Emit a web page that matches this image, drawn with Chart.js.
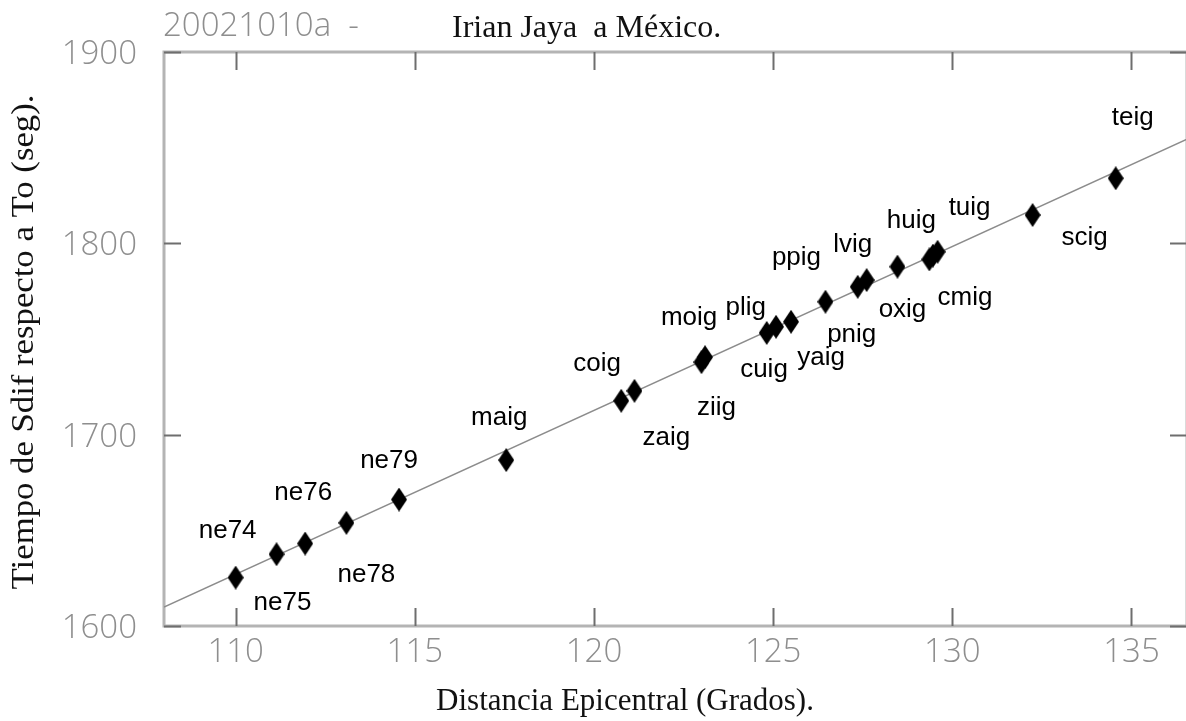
<!DOCTYPE html>
<html>
<head>
<meta charset="utf-8">
<script src="https://cdn.jsdelivr.net/npm/chart.js@4.4.1/dist/chart.umd.min.js"></script>
<style>
  html, body { margin: 0; padding: 0; background: #fff; overflow: hidden; }
  #wrap { width: 1200px; height: 721px; }
</style>
</head>
<body>
<div id="wrap"><canvas id="sdif" width="1200" height="721"></canvas></div>
<script>
// Sdif arrivals, event 20021010a (Irian Jaya) recorded in Mexico
const STATIONS = ['ne74','ne75','ne76','ne78','ne79','maig','coig','zaig','ziig','moig','plig',
                  'cuig','yaig','ppig','pnig','lvig','oxig','huig','cmig','tuig','scig','teig'];
const DIST = [110.00, 111.14, 111.94, 113.09, 114.56, 117.55, 120.76, 121.13, 123.00, 123.10, 124.82,
              125.08, 125.50, 126.46, 127.36, 127.61, 128.47, 129.36, 129.46, 129.59, 132.24, 134.56];
const SDIF = [1625.3, 1637.5, 1643.1, 1653.9, 1666.1, 1686.7, 1717.7, 1722.9, 1737.9, 1740.5, 1753.2,
              1756.4, 1759.0, 1769.5, 1777.3, 1780.8, 1787.8, 1791.6, 1793.6, 1795.6, 1814.8, 1834.0];

// least-squares line, end points
const FIT_X = [108, 136.55];
const FIT_Y = [1609.9, 1854.4];

const X_TICKS = [110, 115, 120, 125, 130, 135];
const Y_TICKS = [1600, 1700, 1800, 1900];

const EVENT_ID = '20021010a  -';
const TITLE = 'Irian Jaya  a México.';
const X_TITLE = 'Distancia Epicentral (Grados).';
const Y_TITLE = 'Tiempo de Sdif respecto a To (seg).';

// where each station name sits relative to its diamond (px)
const LABEL_OFFSET = {
  ne74: [-8, -47], ne75: [6, 49], ne76: [-2, -51], ne78: [20, 52], ne79: [-10, -39],
  maig: [-7, -42], coig: [-24, -37], zaig: [32, 47], ziig: [15, 46], moig: [-16, -39],
  plig: [-21, -25], cuig: [-12, 43], yaig: [30, 36], ppig: [-29, -44], pnig: [-6, 48],
  lvig: [-14, -35], oxig: [5, 43], huig: [-18, -39], cmig: [32, 42], tuig: [32, -44],
  scig: [52, 23], teig: [17, -60],
};

const TICK_FONT = '300 33px "Open Sans", "Liberation Sans", sans-serif';
const TICK_COLOR = '#8e8e8e';
const SERIF = '"Liberation Serif", "Times New Roman", serif';

// tall narrow diamond marker
const diamond = document.createElement('canvas');
diamond.width = 16; diamond.height = 24;
(() => {
  const g = diamond.getContext('2d');
  g.fillStyle = '#000';
  g.beginPath();
  g.moveTo(8, 0); g.lineTo(16, 12); g.lineTo(8, 24); g.lineTo(0, 12);
  g.closePath(); g.fill();
})();

const frame = {
  id: 'frame',
  beforeDatasetsDraw(chart) {
    const { ctx, chartArea: a, scales: { x, y } } = chart;
    ctx.save();
    ctx.strokeStyle = '#b4b4b4';
    ctx.lineWidth = 3;
    ctx.strokeRect(a.left, a.top, a.right - a.left, a.bottom - a.top);
    ctx.strokeStyle = '#6e6e6e';
    ctx.lineWidth = 2;
    ctx.beginPath();
    X_TICKS.forEach(v => {
      const px = Math.round(x.getPixelForValue(v)) + 0.5;
      ctx.moveTo(px, a.bottom); ctx.lineTo(px, a.bottom - 18);
      ctx.moveTo(px, a.top); ctx.lineTo(px, a.top + 18);
    });
    Y_TICKS.forEach(v => {
      const py = Math.round(y.getPixelForValue(v)) + 0.5;
      ctx.moveTo(a.left, py); ctx.lineTo(a.left + 17, py);
      ctx.moveTo(a.right, py); ctx.lineTo(a.right - 17, py);
    });
    ctx.stroke();
    ctx.restore();
  },
  afterDraw(chart) {
    const { ctx, scales: { x, y } } = chart;
    const meta = chart.getDatasetMeta(0);
    ctx.save();

    // tick labels
    ctx.font = TICK_FONT;
    ctx.fillStyle = TICK_COLOR;
    ctx.textBaseline = 'alphabetic';
    ctx.textAlign = 'center';
    X_TICKS.forEach(v => ctx.fillText(String(v), x.getPixelForValue(v), 662));
    ctx.textAlign = 'right';
    Y_TICKS.forEach(v => ctx.fillText(String(v), 137, y.getPixelForValue(v) + 12));

    // event id + title
    ctx.textAlign = 'left';
    ctx.fillText(EVENT_ID, 163, 36);
    ctx.font = '32px ' + SERIF;
    ctx.fillStyle = '#111';
    ctx.fillText(TITLE, 452, 37);

    // axis titles
    ctx.textAlign = 'center';
    ctx.font = '31px ' + SERIF;
    ctx.fillText(X_TITLE, 625, 710);
    ctx.save();
    ctx.translate(33, 342);
    ctx.rotate(-Math.PI / 2);
    ctx.scale(1.12, 1);
    ctx.fillText(Y_TITLE, 0, 0);
    ctx.restore();

    // station names
    ctx.font = '26px "Liberation Sans", Arial, sans-serif';
    ctx.fillStyle = '#000';
    ctx.textBaseline = 'middle';
    meta.data.forEach((pt, i) => {
      const name = STATIONS[i];
      const [dx, dy] = LABEL_OFFSET[name];
      ctx.fillText(name, pt.x + dx, pt.y + dy);
    });
    ctx.restore();
  },
};

new Chart(document.getElementById('sdif'), {
  type: 'scatter',
  data: {
    datasets: [
      {
        data: DIST.map((d, i) => ({ x: d, y: SDIF[i] })),
        pointStyle: diamond,
        pointRadius: 12,
        order: 0,
      },
      {
        type: 'line',
        data: FIT_X.map((d, i) => ({ x: d, y: FIT_Y[i] })),
        borderColor: '#8c8c8c',
        borderWidth: 1.5,
        pointRadius: 0,
        order: 1,
      },
    ],
  },
  options: {
    responsive: false,
    animation: false,
    layout: { padding: { top: 52, right: 12, left: 0, bottom: 0 } },
    plugins: { legend: { display: false }, tooltip: { enabled: false } },
    scales: {
      x: {
        type: 'linear', min: 108, max: 136.55,
        afterBuildTicks: s => { s.ticks = X_TICKS.map(v => ({ value: v })); },
        afterFit: s => { s.height = 95; },
        grid: { display: false }, border: { display: false }, ticks: { display: false },
      },
      y: {
        type: 'linear', min: 1600, max: 1900,
        afterBuildTicks: s => { s.ticks = Y_TICKS.map(v => ({ value: v })); },
        afterFit: s => { s.width = 164; },
        grid: { display: false }, border: { display: false }, ticks: { display: false },
      },
    },
  },
  plugins: [frame],
});
</script>
</body>
</html>
